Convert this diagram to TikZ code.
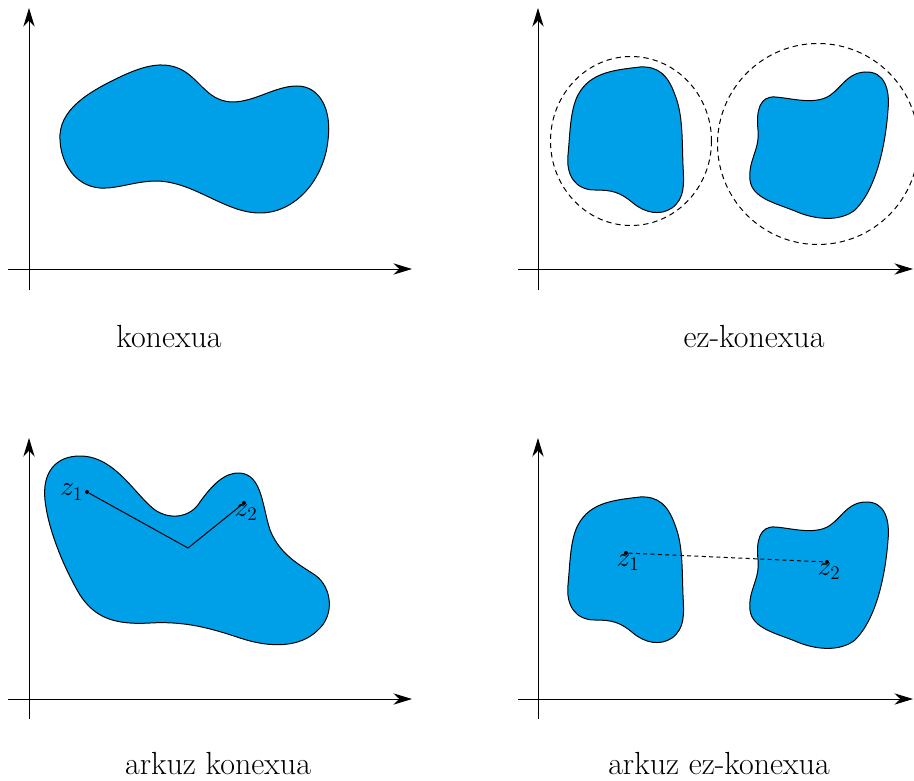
\documentclass[tikz,border=0pt]{standalone}
\usetikzlibrary{arrows.meta}

\definecolor{regblue}{RGB}{0,160,233}

\tikzset{every picture/.style={line width=0.75pt}}
\tikzset{
  axis/.style={-{Stealth[length=14pt,width=8.5pt,inset=4.5pt]}},
  region/.style={draw=black,fill=regblue,line width=0.75pt},
  cover/.style={draw=black,dash pattern=on 4pt off 3pt,line width=0.75pt},
  caption/.style={anchor=base,inner sep=0pt,font=\fontsize{24}{29}\selectfont},
  zlabel/.style={inner sep=0.75pt,font=\fontsize{20}{24}\selectfont},
  dot/.style={circle,fill=black,inner sep=0pt,minimum size=3pt}
}

\begin{document}
\begin{tikzpicture}[x=0.75pt,y=0.75pt,yscale=-1,xscale=1]
\useasboundingbox (0,0) rectangle (914,781);

%Axes: top left
\coordinate (ya) at (29,290); \coordinate (yb) at (29,8);
\coordinate (xa) at (8,269); \coordinate (xb) at (412,269);
\draw [axis] (ya) -- (yb);
\draw [axis] (xa) -- (xb);
%Axes: top right
\coordinate (yc) at (538,290); \coordinate (yd) at (538,8);
\coordinate (xc) at (518,269); \coordinate (xd) at (913,269);
\draw [axis] (yc) -- (yd);
\draw [axis] (xc) -- (xd);
%Axes: bottom left
\coordinate (ye) at (29,719); \coordinate (yf) at (29,438);
\coordinate (xe) at (8,699); \coordinate (xf) at (412,699);
\draw [axis] (ye) -- (yf);
\draw [axis] (xe) -- (xf);
%Axes: bottom right
\coordinate (yg) at (538,719); \coordinate (yh) at (538,438);
\coordinate (xg) at (518,699); \coordinate (xh) at (913,699);
\draw [axis] (yg) -- (yh);
\draw [axis] (xg) -- (xh);

%Shape: konexua
\draw [region] (60,140) .. controls (58,110) and (88,92) .. (122,76) .. controls (148,64) and (172,58) .. (193,78) .. controls (206,90) and (213,101) .. (232,102) .. controls (255,102) and (275,86) .. (297,86) .. controls (320,86) and (332,110) .. (328,140) .. controls (324,180) and (295,213) .. (260,213) .. controls (225,213) and (195,182) .. (157,181) .. controls (135,181) and (118,189) .. (100,188) .. controls (75,186) and (61,163) .. (60,140) -- cycle ;

%Shape: ez-konexua, left piece
\draw [cover] (631,141) ellipse [x radius=80.5, y radius=84.5];
\draw [region] (640,67) .. controls (615,70) and (590,72) .. (578,95) .. controls (570,110) and (570,135) .. (568,155) .. controls (566,175) and (575,190) .. (595,190) .. controls (612,190) and (620,192) .. (633,203) .. controls (645,213) and (660,216) .. (672,208) .. controls (685,198) and (684,185) .. (683,165) .. controls (682,140) and (683,115) .. (675,95) .. controls (668,75) and (658,66) .. (640,67) -- cycle ;
%Shape: ez-konexua, right piece
\draw [cover] (818,144) circle [radius=100.5];
\draw [region] (775,97) .. controls (790,98) and (810,104) .. (825,98) .. controls (840,92) and (845,73) .. (865,72) .. controls (885,71) and (890,90) .. (888,110) .. controls (885,150) and (875,190) .. (855,210) .. controls (840,222) and (815,220) .. (795,211) .. controls (775,203) and (752,198) .. (750,180) .. controls (748,160) and (760,150) .. (758,130) .. controls (756,110) and (760,96) .. (775,97) -- cycle ;

%Shape: arkuz konexua
\draw [region] (45,500) .. controls (42,472) and (56,456) .. (80,456) .. controls (115,456) and (135,495) .. (155,510) .. controls (170,520) and (190,518) .. (200,502) .. controls (212,485) and (225,472) .. (240,473) .. controls (262,475) and (262,505) .. (270,530) .. controls (280,555) and (300,565) .. (315,575) .. controls (332,587) and (335,615) .. (318,630) .. controls (300,648) and (270,648) .. (240,638) .. controls (210,628) and (185,621) .. (150,623) .. controls (115,625) and (95,618) .. (80,595) .. controls (65,570) and (48,530) .. (45,500) -- cycle ;

%Shape: arkuz ez-konexua
\draw [region] (640,497) .. controls (615,500) and (590,502) .. (578,525) .. controls (570,540) and (570,565) .. (568,585) .. controls (566,605) and (575,620) .. (595,620) .. controls (612,620) and (620,622) .. (633,633) .. controls (645,643) and (660,646) .. (672,638) .. controls (685,628) and (684,615) .. (683,595) .. controls (682,570) and (683,545) .. (675,525) .. controls (668,505) and (658,496) .. (640,497) -- cycle ;
\draw [region] (775,527) .. controls (790,528) and (810,534) .. (825,528) .. controls (840,522) and (845,503) .. (865,502) .. controls (885,501) and (890,520) .. (888,540) .. controls (885,580) and (875,620) .. (855,640) .. controls (840,652) and (815,650) .. (795,641) .. controls (775,633) and (752,628) .. (750,610) .. controls (748,590) and (760,580) .. (758,560) .. controls (756,540) and (760,526) .. (775,527) -- cycle ;

%Points and paths
\node [dot] (za) at (87,492) {};
\node [dot] (zb) at (244,503) {};
\coordinate (zk) at (188,548);
\draw (za) -- (zk) -- (zb);
\node [dot] (zc) at (626,553) {};
\node [dot] (zd) at (827,562) {};
\draw [dash pattern=on 3pt off 2.5pt] (zc) -- (zd);

% Text Node
\node [zlabel,anchor=east] (la) at (za.west) {$z_1$};
% Text Node
\node [zlabel,anchor=north] (lb) at (246,503) {$z_2$};
% Text Node
\node [zlabel,anchor=north] (lc) at (628,553) {$z_1$};
% Text Node
\node [zlabel,anchor=north] (ld) at (829,562) {$z_2$};

% Text Node
\node [caption] (ca) at (169,347) {konexua};
% Text Node
\node [caption] (cb) at (754,347) {ez-konexua};
% Text Node
\node [caption] (cc) at (218,774) {arkuz konexua};
% Text Node
\node [caption] (cd) at (719,774) {arkuz ez-konexua};

\end{tikzpicture}
\end{document}
